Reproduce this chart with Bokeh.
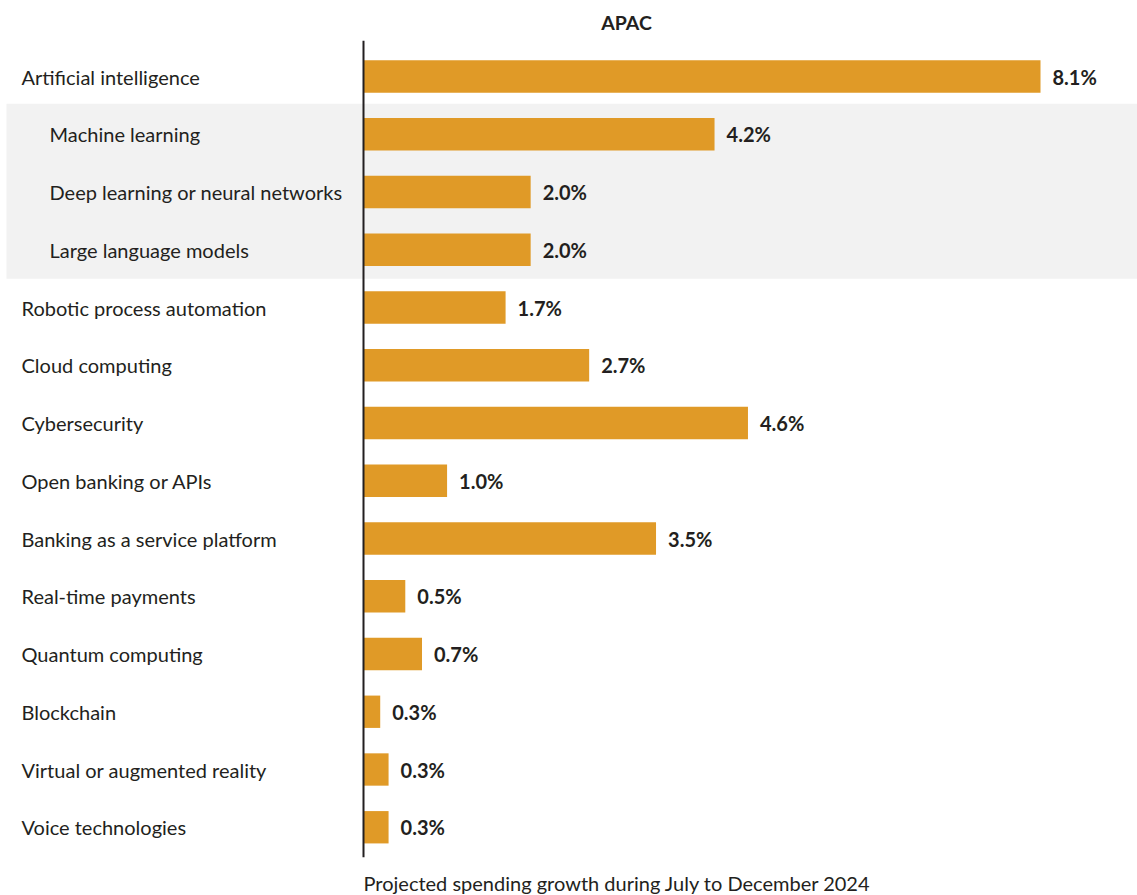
from bokeh.plotting import figure
from bokeh.models import ColumnDataSource, Range1d
from bokeh.core.properties import value
from bokeh.embed import file_html
from bokeh.resources import INLINE

categories = [
    "Artificial intelligence", "Machine learning", "Deep learning or neural networks",
    "Large language models", "Robotic process automation", "Cloud computing",
    "Cybersecurity", "Open banking or APIs", "Banking as a service platform",
    "Real-time payments", "Quantum computing", "Blockchain",
    "Virtual or augmented reality", "Voice technologies",
]
is_sub = [False, True, True, True, False, False, False, False, False, False, False, False, False, False]
values = [8.1, 4.2, 2.0, 2.0, 1.7, 2.7, 4.6, 1.0, 3.5, 0.5, 0.7, 0.2, 0.3, 0.3]
value_labels = ["8.1%", "4.2%", "2.0%", "2.0%", "1.7%", "2.7%", "4.6%", "1.0%", "3.5%",
                "0.5%", "0.7%", "0.3%", "0.3%", "0.3%"]
title_text = "APAC"
xlabel_text = "Projected spending growth during July to December 2024"

FONT = "Lato"
BAR = "#E09A27"
TXT = "#231F20"

W, H = 1137, 895
px_per = (1040 - 363) / 8.1
x0 = -363 / px_per
x1 = x0 + W / px_per
row = 57.75
ytop = (0 - 76) / row
ybot = (H - 76) / row

p = figure(width=W, height=H, output_backend="svg", toolbar_location=None,
           x_range=Range1d(x0, x1), y_range=Range1d(ybot, ytop),
           min_border=0, min_border_left=0, min_border_right=0,
           min_border_top=0, min_border_bottom=0)
p.axis.visible = False
p.grid.visible = False
p.outline_line_color = None
p.background_fill_color = "white"
p.border_fill_color = "white"

n = len(categories)
ys = list(range(n))

# grey band behind the sub-items of AI
sub_idx = [i for i, s in enumerate(is_sub) if s]
p.quad(left=x0 + 6 / px_per, right=x1, bottom=min(sub_idx) - 0.53, top=max(sub_idx) + 0.5,
       fill_color="#F2F2F2", line_color=None)

src = ColumnDataSource(dict(
    y=ys, v=values, cat=categories, lab=value_labels,
    indent=[49 if s else 21 for s in is_sub],
    left=[x0] * n,
))

p.hbar(y="y", left=0, right="v", height=0.56, source=src, fill_color=BAR, line_color=None)

p.text(x="v", y="y", text="lab", source=src, x_offset=12, text_baseline="middle",
       text_font=value(FONT), text_font_size="20px", text_font_style="bold",
       text_color=TXT)

p.text(x="left", y="y", text="cat", source=src, x_offset="indent", text_baseline="middle",
       text_font=value(FONT), text_font_size="20px", text_color=TXT)

# vertical axis line
p.segment(x0=0, x1=0, y0=-0.62, y1=n - 1 + 0.52, line_color=TXT, line_width=2)

p.text(x=[(626 - 363) / px_per], y=[(22 - 76) / row], text=[title_text], text_align="center",
       text_baseline="middle", text_font=value(FONT), text_font_size="19.5px",
       text_font_style="bold", text_color=TXT)

p.text(x=[0], y=[(882 - 76) / row], text=[xlabel_text], text_align="left",
       text_baseline="middle", text_font=value(FONT), text_font_size="20px",
       text_color=TXT)

open("out.html", "w").write(file_html(p, INLINE))
